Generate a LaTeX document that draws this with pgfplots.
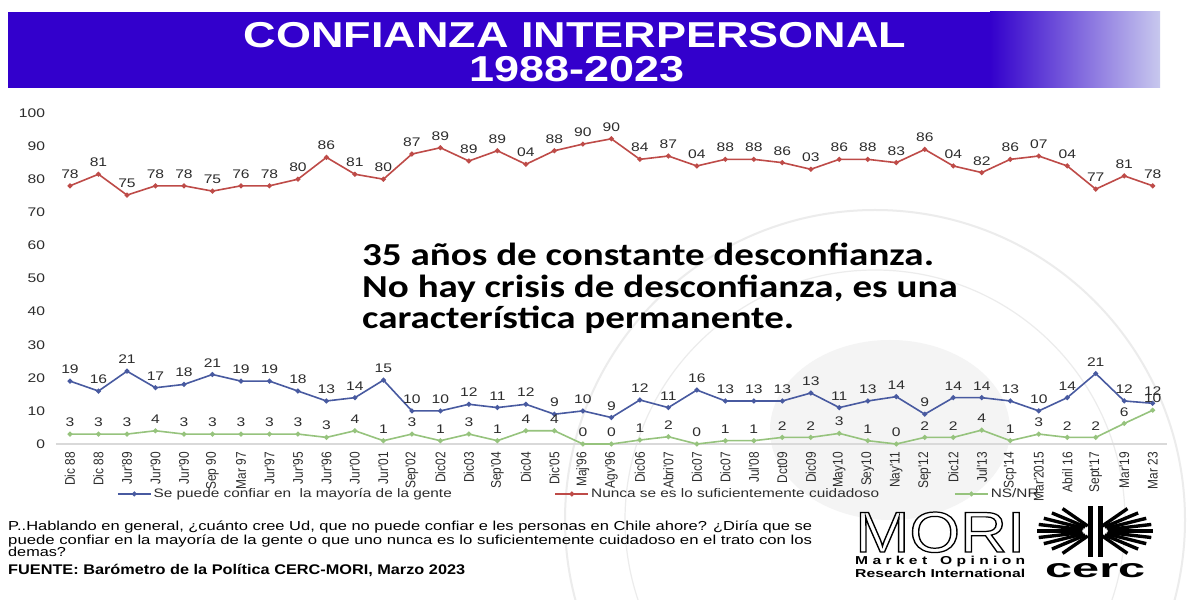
\documentclass[border=0pt]{standalone}
\usepackage{pgfplots}
\pgfplotsset{compat=1.18}
\usepackage{pgfplotstable}
\usepackage{graphicx}
\usepackage{fontspec}
\setmainfont{Liberation Sans}
\newfontfamily\wide[FakeStretch=1.25]{Liberation Sans}
\newfontfamily\xlab[FakeStretch=0.85]{Liberation Sans}
\newfontfamily\calfont[FakeStretch=1.22]{Carlito}
\definecolor{banner}{RGB}{51,0,204}
\definecolor{bannerlt}{RGB}{200,200,238}
\definecolor{cblue}{RGB}{72,90,160}
\definecolor{cred}{RGB}{190,75,72}
\definecolor{cgreen}{RGB}{150,195,125}
\definecolor{txt}{RGB}{45,45,45}
\definecolor{axgray}{RGB}{217,217,217}
\definecolor{wm}{RGB}{236,236,236}

\pgfplotstableread{
x red rl blue bl green gl
0 78 78 19 19 3 3
1 81.5 81 16 16 3 3
2 75.2 75 22 21 3 3
3 78 78 17 17 4 4
4 78 78 18 18 3 3
5 76.4 75 21 21 3 3
6 78 76 19 19 3 3
7 78 78 19 19 3 3
8 80 80 16 18 3 3
9 86.6 86 13 13 2 3
10 81.5 81 14 14 4 4
11 80 80 19.3 15 1 1
12 87.6 87 10 10 3 3
13 89.5 89 10 10 1 1
14 85.5 89 12 12 3 3
15 88.6 89 11 11 1 1
16 84.5 04 12 12 4 4
17 88.6 88 9 9 4 4
18 90.6 90 10 10 0 0
19 92.2 90 8 9 0 0
20 86 84 13.3 12 1.2 1
21 87 87 11 11 2.2 2
22 84 04 16.3 16 0 0
23 86 88 13 13 1 1
24 86 88 13 13 1 1
25 85 86 13 13 2 2
26 83 03 15.4 13 2 2
27 86 86 11 11 3.2 3
28 86 88 13 13 1 1
29 85 83 14.3 14 0 0
30 89 86 9 9 2 2
31 84 04 14 14 2 2
32 82 82 14 14 4.2 4
33 86 86 13 13 1 1
34 87 07 10 10 3 3
35 84 04 14 14 2 2
36 77 77 21.3 21 2 2
37 81 81 13 12 6.2 6
38 78 78 12.3 12 10.2 10
}\data

\begin{document}
\begin{tikzpicture}
\useasboundingbox (0,0) rectangle (1200pt,600pt);
\fill[white] (0,0) rectangle (1200pt,600pt);
\begin{scope}[x=1pt,y=-1pt,yshift=600pt]
  % faint watermark
  \draw[wm, line width=2pt] (875,520) circle (310);
  \draw[wm, line width=1.2pt] (875,520) circle (250);
  \fill[wm!60] (890,430) ellipse (120 and 90);
  % banner
  \fill[banner] (8,12) rectangle (1160,88);
  \shade[left color=banner, right color=bannerlt] (990,12) rectangle (1160,88);
  \node[anchor=base, inner sep=0pt, text=white, font=\wide\bfseries\fontsize{36}{36}\selectfont] at (575,48) {CONFIANZA INTERPERSONAL};
  \node[anchor=base, inner sep=0pt, text=white, font=\wide\bfseries\fontsize{36}{36}\selectfont] at (577,82) {1988-2023};
  % annotation
  \node[anchor=base west, inner sep=0pt, font=\calfont\bfseries\fontsize{32}{32}\selectfont] at (362,266) {35 años de constante desconfianza.};
  \node[anchor=base west, inner sep=0pt, font=\calfont\bfseries\fontsize{32}{32}\selectfont] at (362,298) {No hay crisis de desconfianza, es una};
  \node[anchor=base west, inner sep=0pt, font=\calfont\bfseries\fontsize{32}{32}\selectfont] at (362,329) {característica permanente.};
  % footer
  \node[anchor=base west, inner sep=0pt, text=black] at (8,531) {\resizebox{804pt}{\height}{\fontsize{13}{13}\selectfont P..Hablando en general, ¿cuánto cree Ud, que no puede confiar e les personas en Chile ahore? ¿Diría que se}};
  \node[anchor=base west, inner sep=0pt, text=black] at (8,545) {\resizebox{804pt}{\height}{\fontsize{13}{13}\selectfont puede confiar en la mayoría de la gente o que uno nunca es lo suficientemente cuidadoso en el trato con los}};
  \node[anchor=base west, inner sep=0pt, text=black, font=\wide\fontsize{13}{13}\selectfont] at (8,557) {demas?};
  \node[anchor=base west, inner sep=0pt, text=black] at (8,575) {\resizebox{457pt}{\height}{\bfseries\fontsize{14}{14}\selectfont FUENTE: Barómetro de la Política CERC-MORI, Marzo 2023}};
  % MORI logo
  \node[anchor=base west, inner sep=0pt] at (855,552) {\special{pdf:literal 1 Tr 1.2 w}\resizebox{170pt}{40pt}{\fontsize{56}{56}\selectfont MORI}\special{pdf:literal 0 Tr}};
  \node[anchor=base west, inner sep=0pt] at (855,565) {\resizebox{170pt}{\height}{\bfseries\fontsize{11.5}{12}\selectfont M a r k e t \ \ O p i n i o n}};
  \node[anchor=base west, inner sep=0pt] at (855,577) {\resizebox{170pt}{\height}{\bfseries\fontsize{11.5}{12}\selectfont Research International}};
  % CERC logo
  \foreach \a in {-56,-42,-28,-14,0,14,28,42,56} {
    \draw[line width=3.4pt, black] ({1095+13*cos(\a)},{531+6*sin(\a)}) -- ({1095+58*cos(\a)},{531+27*sin(\a)});
    \draw[line width=3.4pt, black] ({1095-13*cos(\a)},{531+6*sin(\a)}) -- ({1095-58*cos(\a)},{531+27*sin(\a)});
  }
  \fill[black] (1087.5,506) rectangle (1092.5,557);
  \fill[black] (1097.5,506) rectangle (1102.5,557);
  \node[anchor=base west, inner sep=0pt] at (1045,577) {\resizebox{100pt}{14pt}{\bfseries\fontsize{27}{27}\selectfont cerc}};
\end{scope}

\begin{axis}[
  at={(55.75pt,156pt)}, anchor=south west, scale only axis,
  width=1111.25pt, height=331pt,
  xmin=-0.5, xmax=38.5, ymin=0, ymax=100,
  axis x line*=bottom, axis y line*=left,
  x axis line style={draw=axgray, line width=1.5pt},
  y axis line style={draw=none},
  major tick length=0pt,
  xtick={0,...,38},
  xticklabels={Dic 88,Dic 88,Jur'89,Jur'90,Jur'90,Sep 90,Mar 97,Jur'97,Jur'95,Jur'96,Jur'00,Jur'01,Sep'02,Dic02,Dic03,Sep'04,Dic04,Dic'05,Maj'96,Agv'96,Dic06,Abri'07,Dic07,Dic07,Jul'08,Dct09,Dic09,May10,Sey10,Nay'11,Sep'12,Dic12,Jul'13,Scp'14,Mar'2015,Abril 16,Sept'17,Mar'19,Mar 23},
  ytick={0,10,...,100},
  /pgf/number format/assume math mode=true,
  yticklabel style={font=\wide\fontsize{12.5}{13}\selectfont, text=txt, inner sep=0pt, anchor=east, xshift=-10.5pt},
  xticklabel style={font=\xlab\fontsize{14}{14}\selectfont, text=txt, rotate=90, anchor=east, inner sep=0pt},
  xticklabel shift=8pt,
  clip=false,
  nodes near coords, point meta=explicit symbolic,
  every node near coord/.append style={font=\wide\fontsize{12.5}{13}\selectfont, text=txt, anchor=south, inner sep=0pt, yshift=6.5pt},
  legend columns=3,
  legend style={at={(0.0551,-0.151)}, anchor=west, draw=none, fill=none, inner sep=0pt, outer sep=0pt, column sep=2pt,
    nodes={inner sep=0pt, font=\wide\fontsize{12.3}{13}\selectfont, text=txt},
    /tikz/every even column/.append style={column sep=0pt}},
  legend image code/.code={\draw[mark repeat=2,mark phase=2,#1] plot coordinates {(0pt,0pt) (16.5pt,0pt) (33pt,0pt)};},
]
\addplot[cblue, line width=1.6pt, mark=*, mark size=1.6pt, mark options={solid, fill=cblue, draw=cblue}] table[x=x, y=blue, meta=bl] {\data};
\addlegendentry{\makebox[401pt][l]{Se puede confiar en\ \ la mayoría de la gente}}
\addplot[cred, line width=1.6pt, mark=*, mark size=1.6pt, mark options={solid, fill=cred, draw=cred}] table[x=x, y=red, meta=rl] {\data};
\addlegendentry{\makebox[363pt][l]{Nunca se es lo suficientemente cuidadoso}}
\addplot[cgreen, line width=1.6pt, mark=*, mark size=1.6pt, mark options={solid, fill=cgreen, draw=cgreen}] table[x=x, y=green, meta=gl] {\data};
\addlegendentry{NS/NR}
\end{axis}
\end{tikzpicture}
\end{document}
